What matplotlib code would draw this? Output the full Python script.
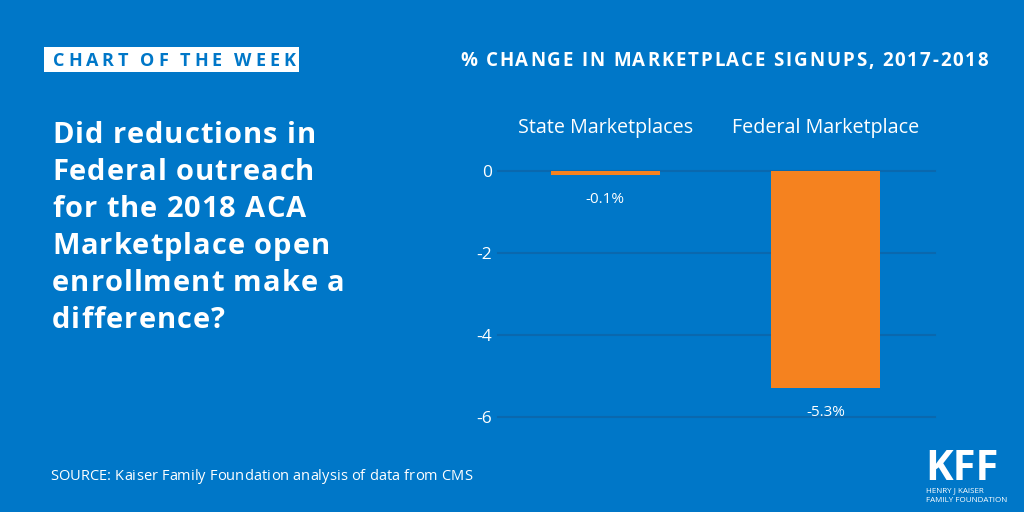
"""KFF chart of the week: % change in marketplace signups, 2017-2018."""

import matplotlib.pyplot as plt
from matplotlib.font_manager import FontProperties
from matplotlib.patches import Rectangle

categories = ["State Marketplaces", "Federal Marketplace"]
pct_change = [-0.1, -5.3]
value_labels = ["-0.1%", "-5.3%"]
y_ticks = [0, -2, -4, -6]

question_lines = [
    "Did reductions in",
    "Federal outreach",
    "for the 2018 ACA",
    "Marketplace open",
    "enrollment make a",
    "difference?",
]

BG = "#0077C8"
ORANGE = "#F5821F"
GRID = "#0A68AE"
FONT = "Open Sans"
W, H = 1024, 512


def char_advances(fig, s, fp):
    renderer = fig.canvas.get_renderer()
    base = renderer.get_text_width_height_descent("||", fp, ismath=False)[0]
    out = []
    for ch in s:
        w = renderer.get_text_width_height_descent("|" + ch + "|", fp, ismath=False)[0]
        out.append(w - base)
    return out


def tracked_text(fig, s, x0, y, fp, color, x1=None, track=0.0):
    """Draw text one letter at a time (pixel coords from top-left) with letter spacing."""
    adv = char_advances(fig, s, fp)
    if x1 is not None and len(s) > 1:
        track = (x1 - x0 - sum(adv)) / (len(s) - 1)
    x = x0
    for ch, a in zip(s, adv):
        if ch != " ":
            fig.text(x / W, 1 - y / H, ch, fontproperties=fp, color=color,
                     ha="left", va="baseline")
        x += a + track
    return track


def main() -> None:
    fig = plt.figure(figsize=(10.24, 5.12), dpi=100)
    fig.patch.set_facecolor(BG)

    ax = fig.add_axes([0.486, 0.1855, 0.427, 0.4805])
    ax.set_facecolor(BG)
    x = range(len(categories))
    ax.bar(x, pct_change, width=0.495, color=ORANGE, zorder=3)
    ax.set_xlim(-0.489, 1.498)
    ax.set_ylim(-6, 0)
    ax.set_yticks(y_ticks)
    ax.set_yticklabels([str(t) for t in y_ticks], fontfamily=FONT, fontsize=12.5, color="white")
    ax.tick_params(axis="y", length=0, pad=4)
    ax.set_xticks([])
    for t in y_ticks:
        ax.axhline(t, color=GRID, lw=1.5, zorder=1, clip_on=False)
    for side in ax.spines.values():
        side.set_visible(False)

    for i, (cat, v, lab) in enumerate(zip(categories, pct_change, value_labels)):
        ax.text(i, 0.93, cat, ha="center", va="baseline", color="white",
                fontfamily=FONT, fontsize=14.2, clip_on=False)
        ax.text(i, v - 0.6, lab, ha="center", va="center", color="white",
                fontfamily=FONT, fontsize=11)

    # header box and chart title
    fig.patches.append(Rectangle((44 / W, 1 - 72 / H), 255 / W, 25 / H,
                                 transform=fig.transFigure, fc="white", ec="none"))
    bold13 = FontProperties(family=FONT, weight="bold", size=13)
    tracked_text(fig, "CHART OF THE WEEK", 53, 66, bold13, BG, x1=295)
    bold_title = FontProperties(family=FONT, weight="bold", size=13.5)
    tracked_text(fig, "% CHANGE IN MARKETPLACE SIGNUPS, 2017-2018", 460, 66,
                 bold_title, "white", x1=988)

    # question block
    qfp = FontProperties(family=FONT, weight="bold", size=21)
    track = tracked_text(fig, question_lines[0], 52, 143, qfp, "white", x1=316)
    for k, line in enumerate(question_lines[1:], start=1):
        tracked_text(fig, line, 52, 143 + 37 * k, qfp, "white", track=track)

    src = FontProperties(family=FONT, size=10.5)
    tracked_text(fig, "SOURCE: Kaiser Family Foundation analysis of data from CMS",
                 50, 480, src, "white", x1=472)

    # logo
    fig.text(925 / W, 1 - 480 / H, "KFF", fontfamily=FONT, fontweight="bold",
             fontsize=30, color="white", va="baseline", ha="left")
    fig.text(926 / W, 1 - 492 / H, "HENRY J KAISER", fontfamily=FONT, fontsize=5.8,
             color="white", va="baseline", ha="left")
    fig.text(926 / W, 1 - 502 / H, "FAMILY FOUNDATION", fontfamily=FONT, fontsize=5.8,
             color="white", va="baseline", ha="left")

    fig.savefig("out.png", dpi=100, facecolor=BG)


if __name__ == "__main__":
    main()
